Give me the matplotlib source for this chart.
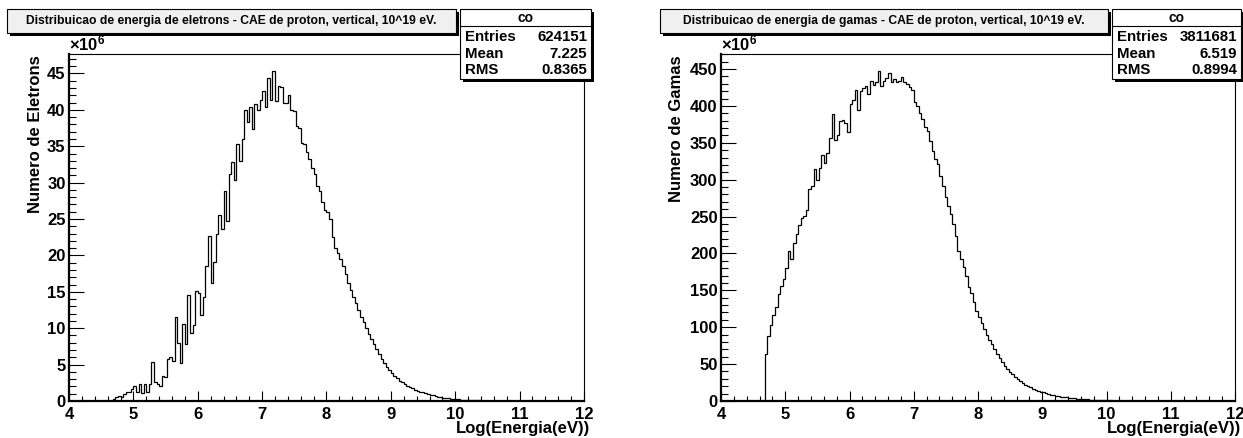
import matplotlib
matplotlib.use('Agg')
import matplotlib.pyplot as plt
import numpy as np
from matplotlib.patches import Rectangle
from matplotlib.ticker import MultipleLocator

plt.rcParams['font.family'] = ['Liberation Sans', 'DejaVu Sans']
plt.rcParams['font.weight'] = 'bold'
plt.rcParams['mathtext.fontset'] = 'custom'
plt.rcParams['mathtext.rm'] = 'Liberation Sans:bold'
plt.rcParams['mathtext.bf'] = 'Liberation Sans:bold'

# binning of both histograms: 200 bins over 4..12, first filled bin at 4.68
x_lo, x_hi, n_bins = 4.0, 12.0, 200
first_bin = 17

# electrons per bin (x10^6)
eletrons = [
    0.3, 0.6, 0.7, 0.5, 1.0, 1.3, 1.2, 1.6,
    2.1, 1.2, 2.4, 1.1, 2.3, 1.3, 2.4, 5.4,
    2.6, 2.3, 2.1, 3.5, 3.3, 5.8, 6.1, 5.5,
    11.6, 7.9, 5.2, 10.6, 7.8, 14.6, 9.4, 10.4,
    15.1, 14.9, 11.8, 14.3, 18.6, 22.7, 16.2, 19.1,
    23.0, 25.5, 23.6, 28.9, 24.7, 31.2, 32.8, 30.4,
    35.3, 33.0, 36.0, 40.0, 38.3, 40.4, 37.3, 40.8,
    40.0, 41.3, 42.6, 40.4, 44.4, 41.4, 45.4, 41.2,
    43.3, 43.1, 41.0, 40.9, 42.0, 40.0, 39.9, 37.8,
    37.5, 35.5, 35.3, 34.2, 33.2, 32.0, 31.2, 29.5,
    28.8, 27.3, 26.2, 25.9, 25.0, 22.5, 21.0, 20.4,
    19.5, 18.6, 17.4, 16.2, 15.3, 14.3, 13.4, 12.5,
    11.6, 10.8, 10.0, 9.2, 8.5, 7.8, 7.1, 6.4,
    5.8, 5.2, 4.7, 4.2, 3.8, 3.4, 3.1, 2.8,
    2.55, 2.3, 2.1, 1.9, 1.72, 1.56, 1.42, 1.3,
    1.17, 1.05, 0.95, 0.85, 0.76, 0.68, 0.60, 0.53,
    0.47, 0.42, 0.37, 0.33, 0.29, 0.26, 0.22, 0.19,
    0.17, 0.15, 0.13, 0.11, 0.09, 0.08, 0.07, 0.06,
    0.05, 0.04, 0.035, 0.03, 0.025, 0.02, 0.018, 0.015,
    0.012, 0.01, 0.008, 0.006, 0.005, 0.004, 0.003,
]

# gammas per bin (x10^6)
gamas = [
    64, 88, 103, 116, 128, 145, 156, 165,
    180, 203, 193, 214, 226, 239, 248, 251,
    259, 287, 292, 314, 300, 316, 334, 323,
    336, 356, 389, 354, 360, 379, 381, 377,
    364, 403, 408, 421, 394, 420, 424, 427,
    416, 434, 428, 432, 448, 427, 434, 438,
    445, 432, 436, 432, 434, 439, 432, 430,
    425, 421, 405, 400, 390, 382, 371, 366,
    352, 339, 328, 321, 305, 292, 276, 265,
    253, 240, 224, 204, 192, 182, 170, 155,
    146, 134, 122, 114, 106, 97, 90, 83,
    77, 70, 64, 58, 53, 48, 43.5, 39.5,
    36, 32.5, 29.5, 27, 24.5, 22.3, 20.3, 18.5,
    16.9, 15.4, 14.0, 12.8, 11.6, 10.5, 9.6, 8.7,
    7.9, 7.2, 6.5, 5.9, 5.4, 4.9, 4.4, 4.0,
    3.6, 3.25, 2.95, 2.65, 2.4, 2.15, 1.9, 1.7,
    1.5, 1.33, 1.18, 1.05, 0.93, 0.82, 0.72, 0.63,
    0.55, 0.48, 0.42, 0.36, 0.31, 0.27, 0.23, 0.2,
    0.17, 0.14, 0.12, 0.1, 0.08, 0.07, 0.06, 0.05,
    0.04, 0.03, 0.025, 0.02, 0.015, 0.012, 0.01,
]

titles = ['Distribuicao de energia de eletrons - CAE de proton, vertical, 10^19 eV.',
          'Distribuicao de energia de gamas - CAE de proton, vertical, 10^19 eV.']
ylabels = ['Numero de Eletrons', 'Numero de Gamas']
xlabel = 'Log(Energia(eV))'
stat_name = 'co'
entries = ['624151', '3811681']
means = ['7.225', '6.519']
rms = ['0.8365', '0.8994']
y_major = [5, 50]

W, H = 1243, 438


def fx(x):
    return x / W


def fy(y):
    return 1 - y / H


def box(fig, x0, y0, x1, y1, face):
    # ROOT style pave: black shadow down/right, then the box
    fig.add_artist(Rectangle((fx(x0 + 3), fy(y1 + 3)), (x1 - x0) / W, (y1 - y0) / H,
                             transform=fig.transFigure, facecolor='black',
                             edgecolor='black', lw=0, zorder=5))
    fig.add_artist(Rectangle((fx(x0), fy(y1)), (x1 - x0) / W, (y1 - y0) / H,
                             transform=fig.transFigure, facecolor=face,
                             edgecolor='black', lw=0.8, zorder=6))


fig = plt.figure(figsize=(W / 100, H / 100), dpi=100)

edges = np.linspace(x_lo, x_hi, n_bins + 1)
series = [eletrons, gamas]
# pixel layout of each pad: frame x0, x1, title box, stats box, ylabel x
frames = [(69, 584), (721, 1235)]
title_boxes = [(7, 456), (660, 1108)]
stat_boxes = [(460, 591), (1112, 1241)]
ylabel_x = [35.5, 676.5]

for i in range(2):
    vals = np.zeros(n_bins)
    vals[first_bin:first_bin + len(series[i])] = series[i]

    x0, x1 = frames[i]
    ax = fig.add_axes([fx(x0), fy(401), (x1 - x0) / W, (401 - 54) / H])
    ax.stairs(vals, edges, color='black', lw=0.9)
    ax.set_xlim(x_lo, x_hi)
    ax.set_ylim(0, 1.05 * vals.max())

    ax.xaxis.set_major_locator(MultipleLocator(1))
    ax.xaxis.set_minor_locator(MultipleLocator(0.2))
    ax.yaxis.set_major_locator(MultipleLocator(y_major[i]))
    ax.yaxis.set_minor_locator(MultipleLocator(y_major[i] / 5))
    ax.tick_params(axis='x', which='major', direction='in', length=7.2, width=0.8,
                   labelsize=12, pad=4)
    ax.tick_params(axis='x', which='minor', direction='in', length=3.6, width=0.8)
    ax.tick_params(axis='y', which='major', direction='in', length=10.5, width=0.8,
                   labelsize=12, pad=2.5)
    ax.tick_params(axis='y', which='minor', direction='in', length=5.2, width=0.8)
    for s in ['bottom', 'left']:
        ax.spines[s].set_linewidth(1.6)
    for s in ['top', 'right']:
        ax.spines[s].set_linewidth(0.8)

    fig.text(fx(x0), fy(53), r'$\times\mathbf{10^{6}}$', fontsize=12,
             ha='left', va='bottom')
    fig.text(fx(ylabel_x[i]), fy(55), ylabels[i], fontsize=12, rotation=90,
             ha='center', va='top')
    fig.text(fx(x1 + 6), fy(428), xlabel, fontsize=12, ha='right', va='center')

    # title pave
    tx0, tx1 = title_boxes[i]
    box(fig, tx0, 9, tx1, 33, '#f0f0f0')
    fig.text(fx((tx0 + tx1) / 2), fy(21), titles[i], fontsize=8.7,
             ha='center', va='center', zorder=7)

    # stats pave
    sx0, sx1 = stat_boxes[i]
    box(fig, sx0, 9, sx1, 79, 'white')
    fig.add_artist(plt.Line2D([fx(sx0), fx(sx1)], [fy(26), fy(26)],
                              transform=fig.transFigure, color='black',
                              lw=0.8, zorder=7))
    fig.text(fx((sx0 + sx1) / 2), fy(17.5), stat_name, fontsize=10,
             ha='center', va='center', zorder=7)
    rows = [('Entries', entries[i]), ('Mean', means[i]), ('RMS', rms[i])]
    for j, (lab, v) in enumerate(rows):
        yy = fy(37 + j * 16.5)
        fig.text(fx(sx0 + 5), yy, lab, fontsize=10.8, ha='left', va='center', zorder=7)
        fig.text(fx(sx1 - 4), yy, v, fontsize=10.8, ha='right', va='center', zorder=7)

fig.savefig('out.png', dpi=100)
